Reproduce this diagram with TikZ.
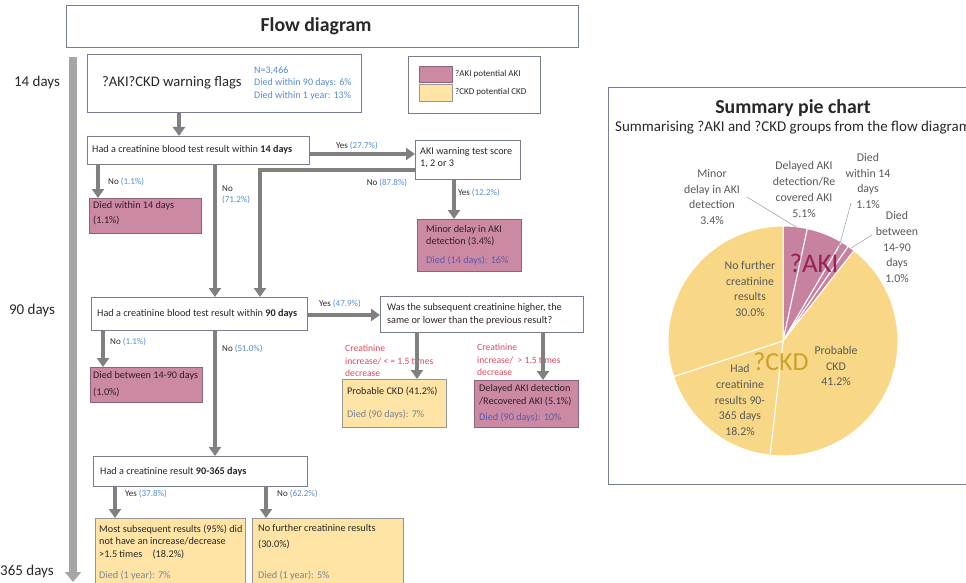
\documentclass[tikz,border=0pt]{standalone}
\usepackage{fontspec}
\setmainfont{Carlito}
\usetikzlibrary{arrows.meta,calc}
\definecolor{pinkbox}{RGB}{204,137,164}
\definecolor{pinkbord}{RGB}{140,100,120}
\definecolor{yelbox}{RGB}{255,228,165}
\definecolor{yelbord}{RGB}{150,150,150}
\definecolor{arrgray}{RGB}{128,128,128}
\definecolor{tlgray}{RGB}{166,166,166}
\definecolor{bord}{RGB}{120,125,150}
\definecolor{bluet}{RGB}{84,141,212}
\definecolor{redt}{RGB}{215,75,95}
\definecolor{purt}{RGB}{95,90,170}
\definecolor{diedgray}{RGB}{120,130,150}
\definecolor{txtc}{RGB}{40,40,40}
\definecolor{pinktxt}{RGB}{50,30,40}
\definecolor{piepink}{RGB}{199,130,160}
\definecolor{pieyel}{RGB}{248,216,135}
\definecolor{pielabc}{RGB}{89,89,89}
\definecolor{leadc}{RGB}{166,166,166}
\definecolor{akic}{RGB}{150,35,85}
\definecolor{ckdc}{RGB}{205,160,40}
\newcommand\FsNine{\fontsize{10.2}{12}\selectfont}
\newcommand\FsEight{\fontsize{9}{11}\selectfont}
\newcommand\FsEightHalf{\fontsize{9.6}{12.5}\selectfont}
\newcommand\FsSeven{\fontsize{9}{10}\selectfont}
\newcommand\FsDay{\fontsize{15}{17}\selectfont}
\newcommand\FsBig{\fontsize{14.6}{17}\selectfont}
\newcommand\FsPie{\fontsize{11.8}{15.8}\selectfont}
\begin{document}
\begin{tikzpicture}[x=1pt,y=-1pt,
  box/.style={draw=bord, line width=0.8pt, anchor=north west, inner sep=0pt, outer sep=0pt},
  wbox/.style={box, fill=white},
  pbox/.style={box, fill=pinkbox, draw=pinkbord},
  ybox/.style={box, fill=yelbox, draw=yelbord},
  flow/.style={draw=arrgray, line width=4pt, -{Triangle[width=12pt,length=9pt]}},
  txt/.style={inner sep=0pt, anchor=west, align=left, text=txtc},
  ptxt/.style={txt, text=pinktxt},
  lab/.style={inner sep=0pt, anchor=west, align=left, text=txtc, font=\FsEight},
  redlab/.style={inner sep=0pt, anchor=west, align=left, text=redt, font=\FsEightHalf},
  pielab/.style={inner sep=0pt, align=center, text=pielabc, font=\FsPie},
  leader/.style={draw=leadc, line width=0.6pt}]
\useasboundingbox (0,0) rectangle (966,583);
\clip (0,0) rectangle (966,583);

% title
\node[wbox, minimum width=512pt, minimum height=42pt] (title) at (66,5) {};
\node[font=\bfseries\fontsize{19.8}{22}\selectfont, text=txtc] (titletext) at (316,26) {Flow diagram};

% timeline
\coordinate (tltop) at (73,57);
\coordinate (tlbot) at (73,582);
\draw[draw=tlgray, line width=8pt, -{Triangle[width=16pt,length=10pt]}] (tltop) -- (tlbot);
\node[font=\FsDay, text=txtc] (d14) at (37,83) {14 days};
\node[font=\FsDay, text=txtc] (d90) at (32,310) {90 days};
\node[font=\FsDay, text=txtc] (d365) at (27,571) {365 days};

% box 1
\node[wbox, minimum width=274pt, minimum height=58pt] (b1) at (87,54) {};
\node[txt, font=\FsBig] (b1t) at (102,83) {?AKI?CKD warning flags};
\node[txt, font=\fontsize{10}{12.5}\selectfont, text=bluet] (b1s) at (254,83) {N=3,466\\Died within 90 days: 6\%\\Died within 1 year: 13\%};

% legend
\node[wbox, minimum width=132pt, minimum height=57pt] (leg) at (408,56) {};
\node[pbox, minimum width=33pt, minimum height=16pt] (legp) at (419,66) {};
\node[ybox, minimum width=33pt, minimum height=17pt] (legy) at (419,84) {};
\node[txt, font=\FsSeven] (legpt) at (455,74) {?AKI potential AKI};
\node[txt, font=\FsSeven] (legyt) at (455,92) {?CKD potential CKD};

% box 2
\node[wbox, minimum width=222pt, minimum height=28pt] (b2) at (87,136) {};
\node[txt, font=\FsNine] (b2t) at (92,150) {Had a creatinine blood test result within \textbf{14 days}};

% AKI warning box
\node[wbox, minimum width=105pt, minimum height=39pt] (aki) at (415,140) {};
\node[txt, font=\FsNine] (akit) at (420,158) {AKI warning test score\\1, 2 or 3};

% minor delay
\node[pbox, minimum width=104pt, minimum height=52pt] (minor) at (417,219) {};
\node[ptxt, font=\FsNine] (minort) at (426,236) {Minor delay in AKI\\detection (3.4\%)};
\node[txt, font=\FsNine, text=purt] (minord) at (426,261) {Died (14 days): 16\%};

% died within 14 days
\node[pbox, minimum width=112pt, minimum height=35pt] (d1) at (89,198) {};
\node[ptxt, font=\fontsize{10.2}{15}\selectfont] (d1t) at (93,213.5) {Died within 14 days\\(1.1\%)};

% box 3
\node[wbox, minimum width=216pt, minimum height=33pt] (b3) at (91,297) {};
\node[txt, font=\FsNine] (b3t) at (97,314) {Had a creatinine blood test result within \textbf{90 days}};

% question box
\node[wbox, minimum width=203pt, minimum height=36pt] (q) at (380,296) {};
\node[txt, font=\fontsize{10.2}{13}\selectfont] (qt) at (387,314.5) {Was the subsequent creatinine higher, the\\same or lower than the previous result?};

% probable CKD
\node[ybox, minimum width=104pt, minimum height=48pt] (p) at (342,379) {};
\node[txt, font=\FsNine] (pt) at (347,391) {Probable CKD (41.2\%)};
\node[txt, font=\FsNine, text=diedgray] (pd) at (347,415) {Died (90 days): 7\%};

% delayed AKI
\node[pbox, minimum width=104pt, minimum height=47pt] (da) at (474,380) {};
\node[ptxt, font=\fontsize{10.2}{13}\selectfont] (dat) at (479,395.5) {Delayed AKI detection\\/Recovered AKI (5.1\%)};
\node[txt, font=\FsNine, text=purt] (dad) at (479,418) {Died (90 days): 10\%};

% died between 14-90 days
\node[pbox, minimum width=112pt, minimum height=35pt] (d2) at (90,367) {};
\node[ptxt, font=\fontsize{10.2}{17}\selectfont] (d2t) at (93,384.5) {Died between 14-90 days\\(1.0\%)};

% box 4
\node[wbox, minimum width=214pt, minimum height=30pt] (b4) at (93,456) {};
\node[txt, font=\FsNine] (b4t) at (100,472) {Had a creatinine result \textbf{90-365 days}};

% most subsequent
\node[ybox, minimum width=150pt, minimum height=90pt] (ms) at (95,518) {};
\node[txt, font=\fontsize{10.2}{12.5}\selectfont] (mst) at (99,541.5) {Most subsequent results (95\%) did\\not have an increase/decrease\\>1.5 times\quad(18.2\%)};
\node[txt, font=\FsNine, text=diedgray] (msd) at (99,576) {Died (1 year): 7\%};

% no further
\node[ybox, minimum width=151pt, minimum height=90pt] (nf) at (252,518) {};
\node[txt, font=\fontsize{10.2}{16}\selectfont] (nft) at (258,537) {No further creatinine results\\(30.0\%)};
\node[txt, font=\FsNine, text=diedgray] (nfd) at (258,576) {Died (1 year): 5\%};

% red labels
\node[redlab] (rl1) at (345,361) {Creatinine\\increase/ < = 1.5 times\\decrease};
\node[redlab] (rl2) at (477,360) {Creatinine\\increase/~ > 1.5 times\\decrease};

% connector positions
\coordinate (xa) at (179,0);
\coordinate (ya) at (0,154);
\coordinate (yb) at (0,170);
\coordinate (xb) at (260,0);
\coordinate (xc) at (454,0);
\coordinate (xd) at (98,0);
\coordinate (xe) at (215,0);
\coordinate (yf) at (0,315);
\coordinate (xg) at (103,0);
\coordinate (xh) at (417,0);
\coordinate (xi) at (543,0);
\coordinate (xj) at (115,0);
\coordinate (xk) at (266,0);

% connectors
\draw[flow] (b1.south -| xa) -- (b2.north -| xa);
\draw[flow] (b2.east |- ya) -- (aki.west |- ya);
\draw[flow] (aki.west |- yb) -| (b3.north -| xb);
\draw[flow] (aki.south -| xc) -- (minor.north -| xc);
\draw[flow] (b2.south -| xd) -- (d1.north -| xd);
\draw[flow] (b2.south -| xe) -- (b3.north -| xe);
\draw[flow] (b3.east |- yf) -- (q.west |- yf);
\draw[flow] (b3.south -| xg) -- (d2.north -| xg);
\draw[flow] (b3.south -| xe) -- (b4.north -| xe);
\draw[flow] (q.south -| xh) -- (p.north -| xh);
\draw[flow] (q.south -| xi) -- (da.north -| xi);
\draw[flow] (b4.south -| xj) -- (ms.north -| xj);
\draw[flow] (b4.south -| xk) -- (nf.north -| xk);

% connector labels
\node[lab, anchor=center] (l277) at (357,146) {Yes \textcolor{bluet}{(27.7\%)}};
\node[lab, anchor=center] (l878) at (387,183) {No \textcolor{bluet}{(87.8\%)}};
\node[lab] (l122) at (458,193) {Yes \textcolor{bluet}{(12.2\%)}};
\node[lab] (l11a) at (108,182) {No \textcolor{bluet}{(1.1\%)}};
\node[lab, font=\fontsize{9}{11}\selectfont] (l712) at (222,194.5) {No\\\textcolor{bluet}{(71.2\%)}};
\node[lab, anchor=center] (l479) at (340,304) {Yes \textcolor{bluet}{(47.9\%)}};
\node[lab] (l11b) at (110,342) {No \textcolor{bluet}{(1.1\%)}};
\node[lab] (l510) at (222,349) {No \textcolor{bluet}{(51.0\%)}};
\node[lab] (l378) at (125,494) {Yes \textcolor{bluet}{(37.8\%)}};
\node[lab] (l622) at (277,494) {No \textcolor{bluet}{(62.2\%)}};

% pie chart panel
\node[wbox, minimum width=380pt, minimum height=397pt] (pb) at (608,87) {};
\node[font=\bfseries\fontsize{19.8}{22}\selectfont, text=txtc] (pbt) at (793,108) {Summary pie chart};
\node[txt, font=\fontsize{15}{17}\selectfont] (pbs) at (615,128) {Summarising ?AKI and ?CKD groups from the flow diagram};

\coordinate (pc) at (783,341);
\begin{scope}[shift={(pc)}, x=1pt, y=1pt]
\foreach \a/\b/\c in {90/77.76/piepink, 77.76/59.4/piepink, 59.4/55.44/piepink, 55.44/51.84/piepink, 51.84/-96.48/pieyel, -96.48/-162/pieyel, -162/-270/pieyel}
  \filldraw[fill=\c, draw=white, line width=1pt] (0,0) -- (\a:115pt) arc[start angle=\a, end angle=\b, radius=115pt] -- cycle;
\end{scope}

% leaders
\coordinate (ld1a) at (747,197);
\coordinate (ld1b) at (796,227);
\coordinate (ld2a) at (851,203);
\coordinate (ld2b) at (838,251);
\coordinate (ld3a) at (872,235);
\coordinate (ld3b) at (851,248);
\draw[leader] (ld1a) -- (ld1b);
\draw[leader] (ld2a) -- (ld2b);
\draw[leader] (ld3a) -- (ld3b);

% pie labels
\node[pielab] (lminor) at (712,197) {Minor\\delay in AKI\\detection\\3.4\%};
\node[pielab] (ldelay) at (804,189.5) {Delayed AKI\\detection/Re\\covered AKI\\5.1\%};
\node[pielab] (ld14) at (868,181) {Died\\within 14\\days\\1.1\%};
\node[pielab] (ld90) at (897,247) {Died\\between\\14-90\\days\\1.0\%};
\node[pielab] (lnf) at (750,289) {No further\\creatinine\\results\\30.0\%};
\node[pielab] (lpc) at (836,366) {Probable\\CKD\\41.2\%};
\node[pielab] (lhad) at (740,400) {Had\\creatinine\\results 90-\\365 days\\18.2\%};
\node[font=\fontsize{27}{29}\selectfont, text=akic, inner sep=0pt] (wa) at (814,263) {?AKI};
\node[font=\fontsize{26}{28}\selectfont, text=ckdc, inner sep=0pt] (wc) at (781,362) {?CKD};
\end{tikzpicture}
\end{document}
